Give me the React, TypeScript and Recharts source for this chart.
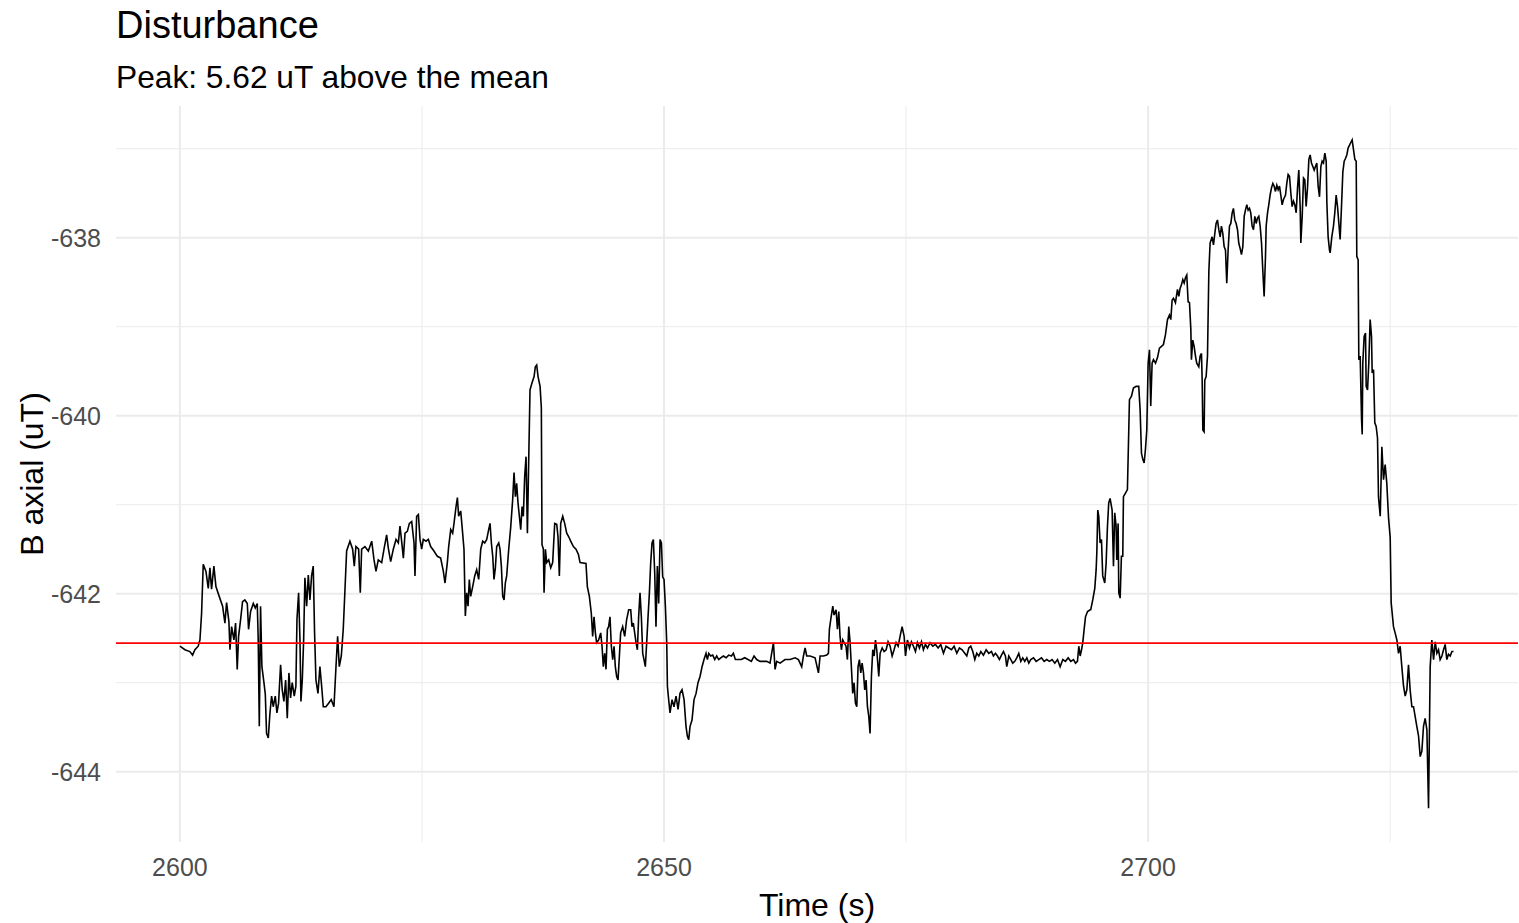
import React from 'react';
import { LineChart, Line, XAxis, YAxis, ReferenceLine, CartesianGrid } from 'recharts';

// ---- data (time in s, B axial in uT) ----
const quietStart: [number, number][] = [
  [2600.00,-642.59],[2600.52,-642.63],[2601.03,-642.65],[2601.31,-642.69],[2601.55,-642.63],[2601.89,-642.59],[2602.07,-642.52],[2602.24,-642.22],[2602.41,-641.67],[2602.69,-641.75],[2602.93,-641.94],[2603.10,-641.71],[2603.27,-641.95],[2603.51,-641.69],[2603.72,-641.92],[2604.06,-642.03],[2604.41,-642.14],[2604.65,-642.33],[2604.82,-642.10],[2605.06,-642.31],[2605.17,-642.63],[2605.34,-642.37],[2605.58,-642.52],[2605.75,-642.33],[2605.92,-642.85],[2606.06,-642.48],[2606.27,-642.29],[2606.47,-642.09],[2606.71,-642.07],[2606.96,-642.11],[2607.09,-642.40],[2607.30,-642.20],[2607.58,-642.11],[2607.78,-642.16],[2607.99,-642.11],[2608.09,-642.52],[2608.20,-643.49],[2608.33,-642.14],[2608.47,-642.82],[2608.68,-643.00],[2608.82,-643.13],[2608.95,-643.57],[2609.13,-643.62],[2609.30,-643.34],[2609.47,-643.15],[2609.64,-643.27],[2609.85,-643.15],[2610.02,-643.34],[2610.19,-643.23],[2610.40,-642.80],[2610.57,-643.08],[2610.74,-643.21],[2610.92,-642.97],[2611.09,-643.40],[2611.26,-642.89],[2611.43,-643.17],[2611.60,-643.00],[2611.81,-643.15],[2611.98,-643.04],[2612.09,-642.29],[2612.26,-641.99],[2612.40,-642.52],[2612.50,-643.21],[2612.64,-642.97],[2612.78,-642.52],[2612.91,-641.82],[2613.09,-642.14],[2613.26,-641.79],[2613.43,-642.07],[2613.60,-641.80],[2613.77,-641.69],[2613.91,-642.44],[2614.05,-642.97],[2614.26,-643.12],[2614.46,-642.82],[2614.64,-643.04],[2614.81,-643.27],[2615.08,-643.27],[2615.36,-643.23],[2615.63,-643.19],[2615.91,-643.27],[2616.12,-642.82],[2616.29,-642.48],[2616.46,-642.82],[2616.67,-642.70],[2616.87,-642.40],[2617.05,-641.95],[2617.22,-641.52],[2617.56,-641.41],[2617.84,-641.50],[2618.01,-641.69],[2618.18,-641.47],[2618.46,-641.50],[2618.63,-641.99],[2618.77,-641.50],[2619.11,-641.47],[2619.46,-641.52],
];

const firstBump: [number, number][] = [
  [2619.81,-641.41],[2620.05,-641.62],[2620.25,-641.75],[2620.49,-641.62],[2620.84,-641.65],[2621.08,-641.50],[2621.35,-641.34],[2621.53,-641.49],[2621.77,-641.64],[2622.04,-641.50],[2622.32,-641.39],[2622.56,-641.43],[2622.73,-641.24],[2622.90,-641.41],[2623.08,-641.60],[2623.25,-641.32],[2623.49,-641.30],[2623.70,-641.21],[2623.94,-641.19],[2624.18,-641.43],[2624.28,-641.80],[2624.45,-641.13],[2624.63,-641.11],[2624.80,-641.39],[2624.97,-641.50],[2625.14,-641.39],[2625.42,-641.41],[2625.66,-641.39],[2625.90,-641.47],[2626.24,-641.52],[2626.59,-641.58],[2626.93,-641.60],[2627.21,-641.75],[2627.38,-641.88],[2627.62,-641.65],[2627.76,-641.47],[2627.97,-641.28],[2628.17,-641.32],[2628.31,-641.21],[2628.52,-641.02],[2628.66,-640.92],[2628.79,-641.13],[2629.00,-641.07],[2629.14,-641.24],[2629.34,-641.50],[2629.48,-642.25],[2629.62,-641.99],[2629.76,-642.14],[2629.89,-641.84],[2630.03,-642.03],[2630.24,-641.92],[2630.45,-641.80],[2630.65,-641.73],[2630.86,-641.84],[2631.07,-641.50],[2631.27,-641.41],[2631.48,-641.43],[2631.69,-641.39],[2631.89,-641.28],[2632.03,-641.21],[2632.17,-641.43],[2632.31,-641.58],[2632.44,-641.84],[2632.58,-641.71],[2632.72,-641.47],[2632.93,-641.43],[2633.06,-641.50],[2633.20,-641.69],[2633.34,-642.03],[2633.48,-642.07],[2633.61,-641.88],[2633.75,-641.80],[2633.96,-641.50],[2634.16,-641.26],[2634.37,-640.94],[2634.51,-640.64],[2634.65,-640.91],[2634.78,-640.76],[2634.92,-640.98],[2635.06,-641.13],[2635.20,-641.28],[2635.34,-641.02],[2635.47,-641.13],[2635.61,-640.68],[2635.75,-640.46],[2635.89,-641.32],[2636.02,-640.53],[2636.16,-639.71],[2636.37,-639.63],[2636.58,-639.56],[2636.71,-639.45],[2636.85,-639.43],[2636.99,-639.56],[2637.20,-639.67],[2637.33,-639.91],[2637.40,-641.45],[2637.54,-641.50],[2637.61,-641.99],[2637.75,-641.50],[2637.88,-641.65],[2638.09,-641.62],[2638.30,-641.71],[2638.50,-641.65],[2638.71,-641.21],[2638.92,-641.22],[2639.05,-641.36],[2639.19,-641.80],[2639.33,-641.21],[2639.54,-641.13],[2639.74,-641.21],[2639.95,-641.32],[2640.16,-641.36],[2640.36,-641.41],[2640.64,-641.47],[2640.91,-641.50],[2641.16,-641.56],[2641.33,-641.65],
];

const dropAndSettle: [number, number][] = [
  [2641.94,-641.66],[2642.08,-641.92],[2642.29,-642.03],[2642.49,-642.22],[2642.63,-642.48],[2642.77,-642.26],[2642.91,-642.44],[2643.04,-642.55],[2643.25,-642.52],[2643.46,-642.44],[2643.60,-642.59],[2643.73,-642.82],[2643.87,-642.67],[2644.01,-642.85],[2644.15,-642.40],[2644.28,-642.37],[2644.42,-642.26],[2644.56,-642.59],[2644.70,-642.74],[2644.84,-642.59],[2644.97,-642.82],[2645.11,-642.93],[2645.25,-642.97],[2645.39,-642.70],[2645.52,-642.44],[2645.73,-642.37],[2645.94,-642.48],[2646.14,-642.29],[2646.35,-642.18],[2646.56,-642.18],[2646.69,-642.37],[2646.83,-642.33],[2646.97,-642.44],[2647.11,-642.55],[2647.25,-642.63],[2647.38,-642.26],[2647.52,-641.99],[2647.66,-642.26],[2647.80,-642.67],[2647.93,-642.74],[2648.07,-642.82],[2648.21,-642.55],[2648.35,-642.26],[2648.49,-641.99],[2648.62,-641.66],[2648.76,-641.43],[2648.90,-641.39],[2649.04,-641.77],[2649.17,-642.37],[2649.31,-641.69],[2649.45,-642.11],[2649.59,-641.39],[2649.73,-641.43],[2649.86,-641.81],[2650.00,-641.84],[2650.14,-642.14],[2650.28,-642.55],[2650.35,-643.04],[2650.48,-643.19],[2650.62,-643.34],[2650.83,-643.19],[2651.03,-643.27],[2651.24,-643.15],[2651.45,-643.30],[2651.65,-643.12],[2651.86,-643.08],[2652.07,-643.19],[2652.27,-643.49],[2652.41,-643.60],[2652.55,-643.64],[2652.69,-643.49],[2652.89,-643.42],[2653.10,-643.19],[2653.31,-643.12],[2653.51,-643.00],[2653.72,-642.93],[2653.93,-642.82],[2654.13,-642.74],[2654.34,-642.67],[2654.48,-642.74],[2654.62,-642.67],[2654.82,-642.70],[2655.03,-642.69],[2655.24,-642.74],[2655.44,-642.70],[2655.65,-642.74],[2655.86,-642.72],[2656.13,-642.70],[2656.41,-642.72],[2656.68,-642.69],[2656.96,-642.70],[2657.16,-642.67],[2657.37,-642.74],[2657.65,-642.74],[2657.99,-642.74],[2658.33,-642.72],[2658.68,-642.74],[2659.02,-642.76],[2659.30,-642.70],[2659.57,-642.74],[2659.92,-642.76],[2660.26,-642.76],[2660.61,-642.76],[2660.95,-642.78],
];

const flatPeriod: [number, number][] = [
  [2661.30,-642.55],[2661.47,-642.85],[2661.64,-642.76],[2661.99,-642.78],[2662.50,-642.74],[2663.02,-642.74],[2663.54,-642.72],[2663.88,-642.74],[2664.22,-642.82],[2664.40,-642.70],[2664.57,-642.61],[2664.74,-642.70],[2665.09,-642.70],[2665.60,-642.72],[2665.95,-642.89],[2666.12,-642.70],[2666.46,-642.70],[2666.81,-642.69],[2666.98,-642.67],[2667.08,-642.40],[2667.22,-642.29],[2667.43,-642.14],[2667.56,-642.24],[2667.77,-642.18],[2667.91,-642.40],[2668.05,-642.20],[2668.18,-642.48],[2668.32,-642.63],[2668.46,-642.52],[2668.60,-642.55],[2668.80,-642.59],[2668.94,-642.74],[2669.08,-642.37],[2669.22,-642.55],[2669.35,-642.82],[2669.49,-643.12],[2669.63,-643.00],[2669.77,-643.23],[2669.91,-643.27],[2670.04,-642.82],[2670.18,-642.74],[2670.32,-642.89],[2670.46,-642.78],[2670.60,-642.89],[2670.73,-643.08],[2670.87,-642.97],[2671.01,-643.27],[2671.15,-643.38],[2671.28,-643.57],[2671.42,-642.93],[2671.56,-642.63],[2671.70,-642.70],[2671.84,-642.52],[2671.97,-642.63],[2672.18,-642.93],[2672.32,-642.67],[2672.53,-642.61],[2672.73,-642.65],[2672.94,-642.63],[2673.14,-642.54],[2673.35,-642.59],[2673.56,-642.70],[2673.76,-642.63],[2673.97,-642.55],[2674.18,-642.59],[2674.38,-642.48],[2674.59,-642.37],[2674.80,-642.48],[2674.94,-642.70],[2675.14,-642.52],[2675.35,-642.61],[2675.55,-642.54],[2675.76,-642.59],[2675.97,-642.65],[2676.17,-642.55],[2676.38,-642.61],[2676.59,-642.54],[2676.79,-642.63],[2677.00,-642.57],[2677.21,-642.61],[2677.48,-642.55],[2677.76,-642.59],[2678.03,-642.57],[2678.31,-642.61],[2678.58,-642.57],[2678.86,-642.67],[2679.13,-642.59],[2679.41,-642.61],[2679.69,-642.63],[2679.96,-642.59],[2680.24,-642.67],[2680.51,-642.61],[2680.79,-642.63],[2681.06,-642.67],[2681.27,-642.70],[2681.48,-642.61],[2681.68,-642.59],[2681.89,-642.65],[2682.10,-642.74],[2682.30,-642.67],[2682.51,-642.70],[2682.72,-642.65],[2682.99,-642.69],[2683.27,-642.63],[2683.54,-642.67],[2683.82,-642.65],[2684.02,-642.70],[2684.23,-642.67],[2684.44,-642.70],[2684.64,-642.74],[2684.85,-642.69],[2685.06,-642.65],[2685.26,-642.70],[2685.40,-642.82],[2685.61,-642.70],[2685.82,-642.74],[2686.02,-642.78],[2686.23,-642.76],[2686.43,-642.72],[2686.64,-642.67],[2686.85,-642.76],[2687.05,-642.72],[2687.26,-642.76],[2687.47,-642.72],[2687.67,-642.78],[2687.88,-642.74],[2688.16,-642.72],[2688.43,-642.76],[2688.71,-642.74],[2688.98,-642.72],[2689.26,-642.76],[2689.53,-642.74],[2689.81,-642.76],[2690.08,-642.74],[2690.36,-642.78],[2690.64,-642.74],[2690.91,-642.82],[2691.19,-642.74],[2691.46,-642.76],[2691.74,-642.72],[2692.01,-642.76],[2692.29,-642.74],[2692.50,-642.78],[2692.70,-642.76],[2692.84,-642.59],[2692.98,-642.70],[2693.12,-642.63],[2693.25,-642.55],[2693.39,-642.40],[2693.53,-642.26],[2693.74,-642.20],[2694.01,-642.18],
];

const riseSegment: [number, number][] = [
  [2694.07,-642.18],[2694.28,-642.07],[2694.49,-641.94],[2694.63,-641.73],[2694.70,-641.54],[2694.80,-641.06],[2694.90,-641.13],[2695.04,-641.43],[2695.18,-641.39],[2695.31,-641.80],[2695.52,-641.88],[2695.66,-641.66],[2695.80,-641.24],[2695.93,-640.98],[2696.07,-640.93],[2696.28,-641.06],[2696.42,-641.69],[2696.55,-641.09],[2696.69,-641.24],[2696.76,-641.62],[2696.90,-641.21],[2696.97,-641.99],[2697.11,-642.05],[2697.24,-641.58],[2697.38,-641.58],[2697.45,-640.91],[2697.66,-640.87],[2697.86,-640.83],[2698.00,-640.16],[2698.07,-639.82],[2698.28,-639.78],[2698.48,-639.69],[2698.76,-639.67],[2699.03,-639.67],[2699.17,-639.93],[2699.31,-640.42],[2699.45,-640.49],[2699.59,-640.53],[2699.72,-640.38],[2699.86,-640.16],[2700.00,-639.41],[2700.14,-639.26],[2700.27,-639.89],[2700.41,-639.41],[2700.55,-639.37],[2700.76,-639.41],[2700.96,-639.35],[2701.17,-639.24],[2701.38,-639.22],[2701.58,-639.20],[2701.79,-639.09],[2702.00,-638.92],[2702.20,-638.87],[2702.34,-638.92],[2702.48,-638.70],[2702.62,-638.68],[2702.82,-638.73],[2703.03,-638.58],[2703.17,-638.66],[2703.30,-638.57],[2703.44,-638.53],[2703.58,-638.47],[2703.72,-638.51],[2703.85,-638.45],[2703.99,-638.42],[2704.13,-638.72],[2704.27,-638.73],[2704.41,-639.03],[2704.47,-639.37],[2704.61,-639.15],[2704.75,-639.22],[2704.89,-639.33],[2705.02,-639.41],[2705.23,-639.45],[2705.37,-639.33],[2705.51,-639.30],[2705.58,-639.60],[2705.65,-640.16],[2705.78,-640.18],[2705.85,-639.60],[2705.99,-639.56],[2706.13,-639.33],[2706.27,-638.38],
];

const plateau: [number, number][] = [
  [2706.40,-638.06],[2706.61,-637.99],[2706.75,-638.08],[2706.89,-637.95],[2707.02,-637.84],[2707.16,-637.80],[2707.30,-637.91],[2707.44,-637.99],[2707.57,-637.87],[2707.71,-637.95],[2707.85,-638.10],[2707.99,-638.14],[2708.12,-638.51],[2708.26,-638.14],[2708.40,-637.87],[2708.54,-637.84],[2708.68,-637.72],[2708.81,-637.67],[2708.95,-637.80],[2709.09,-637.84],[2709.23,-637.91],[2709.36,-638.06],[2709.50,-638.12],[2709.64,-638.19],[2709.78,-638.10],[2709.92,-637.76],[2710.05,-637.69],[2710.19,-637.63],[2710.33,-637.69],[2710.47,-637.67],[2710.60,-637.72],[2710.74,-637.87],[2710.88,-637.91],[2711.02,-637.76],[2711.16,-637.84],[2711.29,-637.78],[2711.43,-637.76],[2711.57,-637.87],[2711.71,-638.06],[2711.84,-638.36],[2711.98,-638.66],[2712.12,-638.21],[2712.19,-637.87],[2712.33,-637.72],[2712.46,-637.63],[2712.60,-637.52],[2712.74,-637.44],[2712.88,-637.39],[2713.01,-637.42],[2713.15,-637.48],[2713.29,-637.41],[2713.43,-637.46],[2713.57,-637.42],[2713.70,-637.52],[2713.84,-637.63],[2713.98,-637.57],[2714.19,-637.52],[2714.32,-637.39],[2714.46,-637.29],[2714.60,-637.31],[2714.74,-637.50],[2714.87,-637.65],[2715.01,-637.59],[2715.15,-637.63],[2715.29,-637.72],[2715.43,-637.44],[2715.56,-637.24],[2715.70,-637.65],[2715.77,-638.06],[2715.91,-637.76],[2716.05,-637.33],[2716.18,-637.35],[2716.32,-637.65],[2716.46,-637.44],[2716.60,-637.12],[2716.73,-637.07],[2716.87,-637.16],[2717.01,-637.20],[2717.15,-637.24],[2717.28,-637.20],[2717.42,-637.16],[2717.56,-637.42],[2717.70,-637.54],[2717.84,-637.20],[2717.97,-637.14],[2718.11,-637.16],[2718.25,-637.05],[2718.39,-637.14],[2718.46,-637.61],[2718.59,-637.99],[2718.73,-638.14],
];

const peakAndFall: [number, number][] = [
  [2718.80,-638.17],[2718.97,-637.99],[2719.14,-637.87],[2719.28,-637.72],[2719.42,-637.52],[2719.56,-637.65],[2719.70,-637.84],[2719.83,-638.02],[2719.97,-637.65],[2720.11,-637.26],[2720.25,-637.14],[2720.38,-637.11],[2720.52,-637.07],[2720.66,-636.99],[2720.80,-636.96],[2720.93,-636.93],[2721.07,-636.90],[2721.21,-637.01],[2721.35,-637.12],[2721.49,-637.14],[2721.55,-638.21],[2721.69,-638.25],[2721.76,-639.37],[2721.90,-639.33],[2722.04,-640.04],[2722.11,-640.21],[2722.17,-639.41],[2722.31,-639.11],[2722.45,-639.07],[2722.52,-639.67],[2722.66,-639.71],[2722.79,-639.41],[2722.93,-638.92],[2723.07,-639.11],[2723.14,-639.52],[2723.28,-639.48],[2723.41,-640.08],[2723.55,-640.12],[2723.69,-640.25],
];

const recovery: [number, number][] = [
  [2723.79,-640.91],[2723.97,-641.13],[2724.14,-640.35],[2724.31,-640.72],[2724.48,-640.55],[2724.65,-640.76],[2724.83,-641.15],[2725.00,-641.37],[2725.10,-642.10],[2725.34,-642.37],[2725.51,-642.44],[2725.69,-642.52],[2725.86,-642.67],[2726.03,-642.59],[2726.20,-642.82],[2726.38,-643.04],[2726.55,-643.15],[2726.72,-643.08],[2726.89,-642.80],[2727.06,-643.08],[2727.24,-643.27],[2727.41,-643.27],[2727.58,-643.38],[2727.75,-643.49],[2727.93,-643.60],[2728.10,-643.83],[2728.27,-643.77],[2728.44,-643.49],[2728.61,-643.40],[2728.79,-643.53],[2728.96,-644.41],[2729.13,-642.82],[2729.30,-642.52],[2729.48,-642.74],[2729.65,-642.54],[2729.82,-642.67],[2729.99,-642.63],[2730.16,-642.74],[2730.34,-642.70],[2730.51,-642.63],[2730.68,-642.57],[2730.85,-642.74],[2731.02,-642.68],[2731.20,-642.70],[2731.37,-642.65],[2731.54,-642.65],
];

const meanValue = -642.555;
const xTicks = [2600, 2650, 2700];
const xMinor = [2625, 2675, 2725];
const yTicks = [-644, -642, -640, -638];
const yMinor = [-643, -641, -639, -637];
const xDomain: [number, number] = [2593.4, 2738.2];
const yDomain: [number, number] = [-644.79, -636.52];

const titleText = 'Disturbance';
const subtitleText = 'Peak: 5.62 uT above the mean';
const xTitle = 'Time (s)';
const yTitle = 'B axial (uT)';

const data = [
  ...quietStart, ...firstBump, ...dropAndSettle, ...flatPeriod,
  ...riseSegment, ...plateau, ...peakAndFall, ...recovery,
].map(([t, v]) => ({ t, v }));

const W = 1519;
const H = 923;
const FONT = '"Liberation Sans", Arial, Helvetica, sans-serif';

export default function App() {
  return (
    <div style={{ position: 'absolute', left: 0, top: 0, width: W, height: H, background: '#ffffff', fontFamily: FONT }}>
      <LineChart width={W} height={H} data={data} margin={{ top: 106, right: 1, bottom: 41, left: 16 }}>
        <CartesianGrid
          stroke="#EBEBEB"
          strokeWidth={1}
          horizontalValues={yMinor}
          verticalValues={xMinor}
        />
        <CartesianGrid
          stroke="#EBEBEB"
          strokeWidth={2}
          horizontalValues={yTicks}
          verticalValues={xTicks}
        />
        <XAxis
          type="number"
          dataKey="t"
          domain={xDomain}
          ticks={xTicks}
          allowDataOverflow
          axisLine={false}
          tickLine={false}
          tickSize={0}
          tickMargin={16}
          height={40}
          tick={{ fill: '#4D4D4D', fontSize: 25, fontFamily: FONT }}
        />
        <YAxis
          type="number"
          domain={yDomain}
          ticks={yTicks}
          allowDataOverflow
          axisLine={false}
          tickLine={false}
          tickSize={0}
          tickMargin={15}
          width={100}
          tick={{ fill: '#4D4D4D', fontSize: 25, fontFamily: FONT }}
        />
        <Line
          type="linear"
          dataKey="v"
          stroke="#000000"
          strokeWidth={1.6}
          dot={false}
          activeDot={false}
          isAnimationActive={false}
        />
        <ReferenceLine y={meanValue} stroke="#FF0000" strokeWidth={1.6} />
      </LineChart>
      <svg width={W} height={H} style={{ position: 'absolute', left: 0, top: 0, pointerEvents: 'none' }}>
        <text x={116} y={38} fontSize={38} fill="#000" fontFamily={FONT}>{titleText}</text>
        <text x={116} y={88} fontSize={31.7} fill="#000" fontFamily={FONT}>{subtitleText}</text>
        <text x={817} y={916} fontSize={32} fill="#000" textAnchor="middle" fontFamily={FONT}>{xTitle}</text>
        <text transform="translate(43,474) rotate(-90)" fontSize={32} fill="#000" textAnchor="middle" fontFamily={FONT}>{yTitle}</text>
      </svg>
    </div>
  );
}
